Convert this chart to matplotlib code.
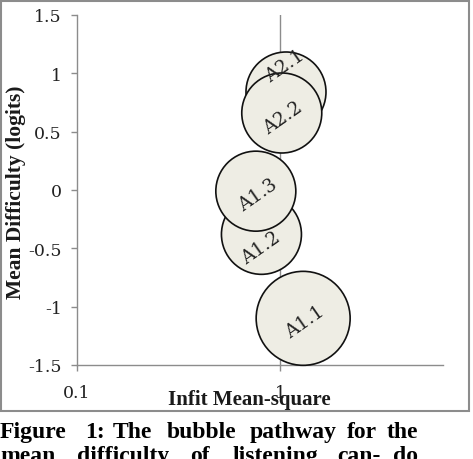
import matplotlib.pyplot as plt
from matplotlib.patches import Rectangle

# bubble data
labels = ['A1.1', 'A1.2', 'A1.3', 'A2.1', 'A2.2']
infit = [1.30, 0.81, 0.76, 1.07, 1.02]
difficulty = [-1.10, -0.38, -0.01, 0.84, 0.66]
bubble_size = [1.38, 1.0, 1.0, 1.0, 1.0]

y_ticks = [-1.5, -1.0, -0.5, 0.0, 0.5, 1.0, 1.5]
y_ticklabels = ['-1.5', '-1', '-0.5', '0', '0.5', '1', '1.5']
x_ticks = [0.1, 1]
x_ticklabels = ['0.1', '1']

caption_line1 = ['Figure', '1:', 'The', 'bubble', 'pathway', 'for', 'the']
caption_line2 = ['mean', 'difficulty', 'of', 'listening', 'can-', 'do']

W, H = 473, 460
grey = '#8c8c8c'
fill = '#eeede4'
serif = ['DejaVu Serif']
times = ['Liberation Serif']

fig = plt.figure(figsize=(W / 100, H / 100), dpi=100)
ax = fig.add_axes([77 / W, 1 - 366 / H, (443 - 77) / W, 350 / H])
ax.set_xscale('log')
ax.set_xlim(0.1, 6.35)
ax.set_ylim(-1.5, 1.5)

ax.axvline(1, color=grey, lw=1.0, zorder=1)

unit = (80 * 72 / 100) ** 2
sizes = [b * unit for b in bubble_size]
ax.scatter(infit, difficulty, s=sizes, color=fill, edgecolor='#111111',
           linewidth=1.2, zorder=3, clip_on=False)

# data labels sit on top of all bubbles (pixel offsets, up = positive)
label_offsets = [(2, -3), (0, -13), (2, -3), (-1, 26), (1, -4)]
for i, lab in enumerate(labels):
    dx, dy = label_offsets[i]
    ax.annotate(lab, (infit[i], difficulty[i]), xytext=(dx, dy),
                textcoords='offset pixels', ha='center', va='center',
                rotation=35, fontsize=13.5, family=serif, color='#222222',
                zorder=10, annotation_clip=False)

for side in ['top', 'right']:
    ax.spines[side].set_visible(False)
for side in ['left', 'bottom']:
    ax.spines[side].set_color(grey)
    ax.spines[side].set_linewidth(1.0)

ax.set_yticks(y_ticks)
ax.set_yticklabels(y_ticklabels, family=serif, fontsize=12.5, color='#222222')
ax.set_xticks(x_ticks)
ax.set_xticklabels(x_ticklabels, family=serif, fontsize=12.5, color='#222222')
ax.xaxis.set_minor_locator(plt.NullLocator())
ax.tick_params(axis='both', length=4, color=grey, width=1.0)
ax.tick_params(axis='y', pad=7)
ax.tick_params(axis='x', pad=10)

fig.text(249 / W, 1 - 405 / H, 'Infit Mean-square', ha='center', va='baseline',
         family=times, fontsize=15, fontweight='bold', color='#1a1a1a')
fig.text(16 / W, 1 - 192 / H, 'Mean Difficulty (logits)', ha='center', va='center',
         rotation=90, family=times, fontsize=15.5, fontweight='bold', color='#1a1a1a')

# grey chart frame
fig.patches.append(Rectangle((1 / W, 1 - 412 / H), 468 / W, 410 / H,
                             transform=fig.transFigure, fill=False,
                             edgecolor=grey, linewidth=1.5))

# justified caption below the frame
line1_x = [0, 85, 113, 167, 250, 347, 387]
line2_x = [0, 77, 190, 233, 337, 393]
for words, xs, base in [(caption_line1, line1_x, 438), (caption_line2, line2_x, 462)]:
    for word, x in zip(words, xs):
        fig.text(x / W, 1 - base / H, word, ha='left', va='baseline',
                 family=times, fontweight='bold', fontsize=17, color='black')

fig.savefig('out.png', dpi=100)
